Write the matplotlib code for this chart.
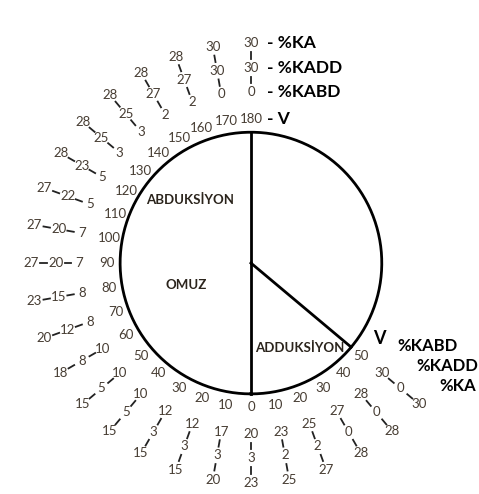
import numpy as np
import matplotlib
matplotlib.use("Agg")
import matplotlib.pyplot as plt

plt.rcParams['font.family'] = ['Lato', 'DejaVu Sans']

# abduksiyon (left half), degrees and the three percentage rings
abd_deg = [0, 10, 20, 30, 40, 50, 60, 70, 80, 90, 100, 110, 120, 130, 140, 150, 160, 170, 180]
abd_kabd = [20, 17, 12, 12, 10, 10, 10, 8, 8, 7, 7, 5, 5, 3, 3, 2, 2, 0, 0]
abd_kadd = [3, 3, 3, 3, 5, 5, 8, 12, 15, 20, 20, 22, 23, 25, 25, 27, 27, 30, 30]
abd_ka = [23, 20, 15, 15, 15, 15, 18, 20, 23, 27, 27, 27, 28, 28, 28, 28, 28, 30, 30]

# adduksiyon (right side)
add_deg = [10, 20, 30, 40, 50]
add_kabd = [23, 25, 27, 28, 30]
add_kadd = [2, 2, 0, 0, 0]
add_ka = [25, 27, 28, 28, 30]

NUM_COL = "#473d33"
R_DEG, R_IN, R_MID, R_OUT = 1.10, 1.31, 1.49, 1.68

fig = plt.figure(figsize=(4.79, 4.94), dpi=100)
ax = fig.add_axes([0.0459, 0.004, 0.956, 0.927], projection='polar')
ax.set_theta_zero_location('S')
ax.set_theta_direction(-1)
ax.set_ylim(0, 1.75)
ax.set_axis_off()

# circle and dividing lines
t = np.linspace(0, 2 * np.pi, 400)
ax.plot(t, np.ones_like(t), color='black', lw=2.0)
ax.plot([0, 0], [0, 1], color='black', lw=2.0)
ax.plot([np.pi, np.pi], [0, 1], color='black', lw=2.0)
ax.plot([np.radians(-max(add_deg))] * 2, [0, 1], color='black', lw=2.0)


def ring(degs, kabd, kadd, ka, sign):
    for d, a, b, c in zip(degs, kabd, kadd, ka):
        th = np.radians(sign * d)
        for r, v in [(R_DEG, d), (R_IN, a), (R_MID, b), (R_OUT, c)]:
            ax.text(th, r, str(v), ha='center', va='center', fontsize=9.5, color=NUM_COL)
        # little dashes between the rings
        for r0 in [(R_IN + R_MID) / 2, (R_MID + R_OUT) / 2]:
            ax.plot([th, th], [r0 - 0.025, r0 + 0.025], color='#222222', lw=1.3)


ring(abd_deg, abd_kabd, abd_kadd, abd_ka, 1)
ring(add_deg, add_kabd, add_kadd, add_ka, -1)

# legend at the top (180 column)
top = np.radians(abd_deg[-1])
for r, lab in [(R_OUT, '- %KA'), (R_MID, '- %KADD'), (R_IN, '- %KABD'), (R_DEG, '- V')]:
    ax.annotate(lab, xy=(top, r), xytext=(16, 0), textcoords='offset pixels',
                ha='left', va='center', fontsize=12.5, fontweight='bold', color='black')

# legend on the right (50 column)
last = np.radians(-add_deg[-1])
ax.annotate('V', xy=(last, R_DEG), xytext=(12, 17), textcoords='offset pixels',
            ha='left', va='center', fontsize=13, fontweight='bold', color='black')
for r, lab, off in [(R_IN, '%KABD', (15, 27)), (R_MID, '%KADD', (16, 22)), (R_OUT, '%KA', (20, 18))]:
    ax.annotate(lab, xy=(last, r), xytext=off, textcoords='offset pixels',
                ha='left', va='center', fontsize=12, fontweight='bold', color='black')

# labels inside the circle
ax.text(np.radians(136), 0.67, 'ABDUKSİYON', ha='center', va='center',
        fontsize=9.5, fontweight='bold', color='#2b241c')
ax.text(np.radians(71), 0.52, 'OMUZ', ha='center', va='center',
        fontsize=9.5, fontweight='bold', color='#2b241c')
ax.text(np.radians(-30), 0.75, 'ADDUKSİYON', ha='center', va='center',
        fontsize=9.5, fontweight='bold', color='#2b241c')

fig.savefig('out.png', dpi=100)
